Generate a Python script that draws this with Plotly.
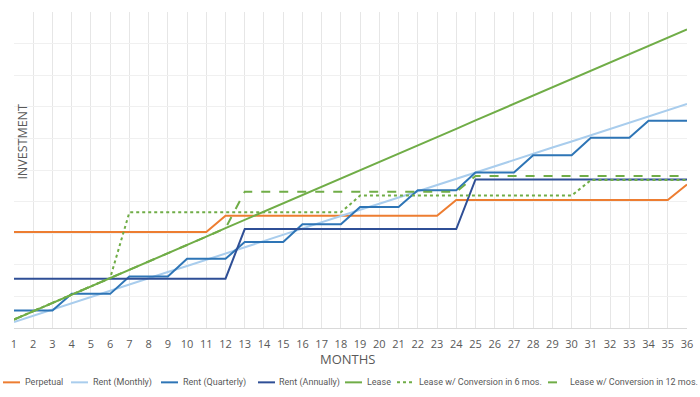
import plotly.graph_objects as go

months = list(range(1, 37))

perpetual = [3.04]*11 + [3.55]*12 + [4.05]*12 + [4.54]
rent_monthly = [0.19, 0.39, 0.58, 0.78, 0.98, 1.17, 1.37, 1.57, 1.77, 1.96,
                2.16, 2.36, 2.55, 2.75, 2.95, 3.14, 3.34, 3.54, 3.74, 3.93,
                4.13, 4.33, 4.52, 4.72, 4.92, 5.11, 5.31, 5.51, 5.71, 5.90,
                6.10, 6.30, 6.49, 6.69, 6.89, 7.09]
rent_quarterly = ([0.55]*3 + [1.08]*3 + [1.63]*3 + [2.19]*3 + [2.72]*3 + [3.28]*3 +
                  [3.83]*3 + [4.36]*3 + [4.92]*3 + [5.47]*3 + [6.02]*3 + [6.56]*3)
rent_annually = [1.56]*12 + [3.13]*12 + [4.70]*12
lease = [0.27, 0.53, 0.79, 1.06, 1.32, 1.58, 1.84, 2.11, 2.37, 2.63,
         2.89, 3.16, 3.42, 3.68, 3.94, 4.20, 4.47, 4.73, 4.99, 5.25,
         5.52, 5.78, 6.04, 6.30, 6.57, 6.83, 7.09, 7.35, 7.61, 7.88,
         8.14, 8.40, 8.66, 8.93, 9.19, 9.45]
lease_conv6 = [0.27, 0.53, 0.79, 1.06, 1.32, 1.58] + [3.66]*12 + [4.19]*12 + [4.68]*6
lease_conv12 = [0.27, 0.53, 0.79, 1.06, 1.32, 1.58, 1.84, 2.11, 2.37, 2.63,
                2.89, 3.16] + [4.31]*12 + [4.81]*12

series_names = ["Perpetual", "Rent (Monthly)", "Rent (Quarterly)", "Rent (Annually)",
                "Lease", "Lease w/ Conversion in 6 mos.", "Lease w/ Conversion in 12 mos."]
series_values = [perpetual, rent_monthly, rent_quarterly, rent_annually,
                 lease, lease_conv6, lease_conv12]
colors = ["#ED7D31", "#A9CDED", "#2E75B6", "#2F4F96", "#70AD47", "#70AD47", "#70AD47"]
dashes = ["solid", "solid", "solid", "solid", "solid", "dot", "dash"]

# pixel layout of the plot area
L, R, T, B = 14, 687, 12, 327.7
W, H = 700, 397

def px(x):
    return (x - L) / (R - L)

def py(y):
    return (B - y) / (B - T)

fig = go.Figure()
for name, vals, color, dash in zip(series_names, series_values, colors, dashes):
    fig.add_trace(go.Scatter(x=months, y=vals, name=name, mode="lines",
                             line=dict(color=color, width=2, dash=dash)))

txt = "#595959"
font = "Open Sans, Noto Sans, sans-serif"
legfont = "Roboto, Open Sans, sans-serif"

# custom single-row legend (positions in pixels)
leg_line_x = [3, 71, 161, 258, 345, 397, 548]
leg_text_x = [23, 91, 181, 277, 365, 417, 568]
leg_y = 382
shapes = []
annotations = []
for i, name in enumerate(series_names):
    shapes.append(dict(type="line", xref="paper", yref="paper",
                       x0=px(leg_line_x[i]), x1=px(leg_line_x[i] + 17),
                       y0=py(leg_y), y1=py(leg_y),
                       line=dict(color=colors[i], width=2, dash=dashes[i])))
    annotations.append(dict(text=name, xref="paper", yref="paper",
                            x=px(leg_text_x[i]), y=py(leg_y),
                            xanchor="left", yanchor="middle", showarrow=False,
                            font=dict(family=legfont, size=9, color=txt)))

annotations.append(dict(text="INVESTMENT", x=px(23), y=py(141.5), xref="paper", yref="paper",
                        xanchor="center", yanchor="middle", showarrow=False,
                        textangle=-90, font=dict(family=font, size=12.5, color=txt)))
annotations.append(dict(text="MONTHS", x=px(347), y=py(359), xref="paper", yref="paper",
                        xanchor="center", yanchor="middle", showarrow=False,
                        font=dict(family=font, size=13, color=txt)))

fig.update_layout(
    width=W, height=H,
    margin=dict(l=L, r=W - R, t=T, b=H - B),
    plot_bgcolor="white", paper_bgcolor="white",
    font=dict(family=font, color=txt),
    showlegend=False,
    xaxis=dict(range=[1, 36], tickmode="array", tickvals=months,
               ticktext=[str(m) for m in months],
               showgrid=True, gridcolor="#E6E6E6", gridwidth=1,
               zeroline=False, showline=True, linecolor="#D9D9D9",
               tickfont=dict(size=11, color=txt), ticks="",
               ticklabelstandoff=6, automargin=False),
    yaxis=dict(range=[0, 10], dtick=1, showgrid=True, gridcolor="#F0F0F0",
               zeroline=False, showticklabels=False, ticks="", fixedrange=True,
               automargin=False),
    shapes=shapes,
    annotations=annotations,
)

fig.write_html("out.html", config={"displayModeBar": False},
               post_script="document.body.style.margin='0';document.body.style.padding='0';")
